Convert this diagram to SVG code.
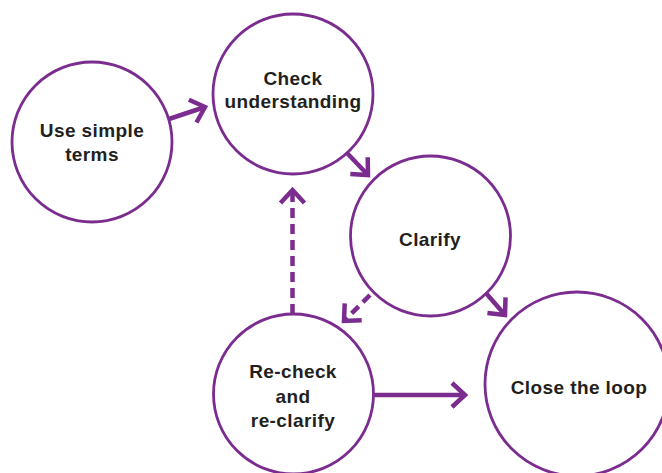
<svg xmlns="http://www.w3.org/2000/svg" width="662" height="473" viewBox="0 0 662 473">
  <style>
    .node circle { fill: #ffffff; stroke: #7b2c8f; stroke-width: 2.8; }
    .node text { font-family: "Liberation Sans", Arial, sans-serif; font-weight: bold; font-size: 19px; letter-spacing: 0.4px; fill: #231f20; text-anchor: middle; }
    .conn { stroke: #7b2c8f; stroke-width: 4.5; fill: none; marker-end: url(#chev); }
    .dash { stroke-dasharray: 10 6; }
  </style>
  <defs>
    <marker id="chev" markerUnits="userSpaceOnUse" markerWidth="40" markerHeight="40" viewBox="-20 -20 40 40" refX="0" refY="0" orient="auto" overflow="visible">
      <path d="M-13,-12 L0,0 L-13,12" fill="none" stroke="#7b2c8f" stroke-width="4.5" stroke-linejoin="miter" stroke-dasharray="none"/>
    </marker>
  </defs>
  <rect width="662" height="473" fill="#ffffff"/>
  <g id="connectors">
    <line class="conn" x1="169" y1="119" x2="205" y2="107"/>
    <line class="conn" x1="347" y1="153" x2="368" y2="175"/>
    <line class="conn dash" x1="370" y1="295" x2="344" y2="321"/>
    <line class="conn dash" x1="292.5" y1="314" x2="292.5" y2="190"/>
    <line class="conn" x1="485" y1="292" x2="505" y2="315"/>
    <line class="conn" x1="373" y1="395" x2="465" y2="395"/>
  </g>
  <g id="use-simple-terms" class="node">
    <circle cx="92" cy="142" r="80"/>
    <text x="92" y="137">Use simple</text>
    <text x="92" y="161">terms</text>
  </g>
  <g id="check-understanding" class="node">
    <circle cx="293" cy="94" r="80"/>
    <text x="293" y="85">Check</text>
    <text x="293" y="108">understanding</text>
  </g>
  <g id="clarify" class="node">
    <circle cx="430.5" cy="236" r="80"/>
    <text x="430" y="246">Clarify</text>
  </g>
  <g id="recheck" class="node">
    <circle cx="293.5" cy="394" r="80"/>
    <text x="293" y="378">Re-check</text>
    <text x="293" y="403">and</text>
    <text x="293" y="427">re-clarify</text>
  </g>
  <g id="close-the-loop" class="node">
    <circle cx="577" cy="384" r="92"/>
    <text x="579" y="394">Close the loop</text>
  </g>
</svg>
